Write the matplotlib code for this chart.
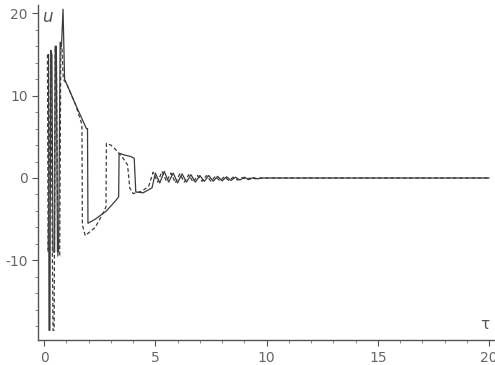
import matplotlib
matplotlib.use("Agg")
import matplotlib.pyplot as plt
from matplotlib.ticker import MultipleLocator

plt.rcParams["axes.unicode_minus"] = False

# solid curve (tau, u)
solid_t = [0.20, 0.22, 0.26, 0.30, 0.35, 0.40, 0.47, 0.50, 0.55, 0.60, 0.65, 0.72, 0.78, 0.85,
           0.92, 1.05, 1.40, 1.90, 1.95, 1.97, 2.30, 2.80, 3.20, 3.35, 3.37, 3.60, 3.90, 4.05,
           4.12, 4.45, 4.85, 5.00, 5.20, 5.40, 5.60, 5.80, 6.00, 6.20, 6.40, 6.60, 6.80,
           7.00, 7.20, 7.40, 7.60, 7.80, 8.00, 8.20, 8.40, 8.60, 8.80, 9.00, 9.20, 9.40, 9.60,
           9.80, 10.0, 12.0, 15.0, 20.0]
solid_u = [15.0, -18.5, -18.5, 15.5, 15.0, -9.0, -9.0, 16.0, 16.0, -9.0, -9.0, 16.5, 16.0, 20.5,
           12.0, 11.2, 9.0, 6.0, 6.0, -5.5, -5.0, -4.0, -2.8, -2.3, 3.0, 2.8, 2.6, 2.4,
           -1.7, -1.8, -1.2, 0.6, -0.6, 0.8, -0.5, 0.6, -0.6, 0.5, -0.5, 0.4, -0.5,
           0.3, -0.4, 0.3, -0.4, 0.2, -0.35, 0.15, -0.3, 0.1, -0.25, 0.1, -0.2, 0.05, -0.1,
           0.0, 0.0, 0.0, 0.0, 0.0]

# dashed curve (tau, u)
dash_t = [0.15, 0.18, 0.30, 0.40, 0.45, 0.50, 0.55, 0.62, 0.70, 0.75, 0.80, 0.86, 1.00, 1.40,
          1.70, 1.72, 1.85, 2.30, 2.70, 2.78, 2.80, 3.00, 3.20, 3.50, 3.75, 3.85, 4.00, 4.40,
          4.70, 4.90, 5.10, 5.30, 5.50, 5.70, 5.90, 6.10, 6.30, 6.50, 6.70, 6.90, 7.10, 7.30,
          7.50, 7.70, 7.90, 8.10, 8.30, 8.50, 8.70, 8.90, 9.10, 9.30, 9.50, 9.70, 10.0, 20.0]
dash_u = [15.0, -9.0, 15.0, -18.5, -18.5, 16.0, 15.0, -9.5, -9.5, 16.0, 16.0, 12.0, 11.5, 9.0,
          6.5, -5.7, -7.0, -6.0, -4.0, -3.5, 4.2, 4.0, 3.5, 2.6, 1.6, -1.2, -1.9, -1.6,
          -1.0, 0.7, -0.5, 0.8, -0.4, 0.6, -0.6, 0.5, -0.5, 0.4, -0.5, 0.3, -0.4, 0.3,
          -0.4, 0.2, -0.35, 0.15, -0.3, 0.1, -0.25, 0.05, -0.2, 0.05, -0.1, 0.0, 0.0, 0.0]

x_ticks = [0, 5, 10, 15, 20]
y_ticks = [-10, 0, 10, 20]

fig = plt.figure(figsize=(4.95, 3.65), dpi=100)
ax = fig.add_axes([0.077, 0.068, 0.92, 0.918])
line_col = "#3c3c3c"
ax.plot(solid_t, solid_u, color=line_col, lw=0.9)
ax.plot(dash_t, dash_u, color=line_col, lw=0.9, ls=(0, (3, 2)))

ax.set_xlim(-0.27, 20.2)
ax.set_ylim(-19.7, 21.0)
for s in ["top", "right"]:
    ax.spines[s].set_visible(False)
for s in ["left", "bottom"]:
    ax.spines[s].set_color("#555555")
    ax.spines[s].set_linewidth(1.0)
ax.set_xticks(x_ticks)
ax.set_yticks(y_ticks)
ax.xaxis.set_minor_locator(MultipleLocator(1))
ax.yaxis.set_minor_locator(MultipleLocator(2))
ax.tick_params(axis="both", which="major", length=4, width=0.8, colors="#555555",
               labelsize=10, labelcolor="#666666")
ax.tick_params(axis="both", which="minor", length=2, width=0.6, colors="#777777")
ax.text(-0.1, 19.6, "u", fontsize=12, style="italic", color="#555555", va="center")
ax.text(19.6, -17.8, "τ", fontsize=11, color="#555555", va="center")

fig.savefig("out.png", dpi=100)
